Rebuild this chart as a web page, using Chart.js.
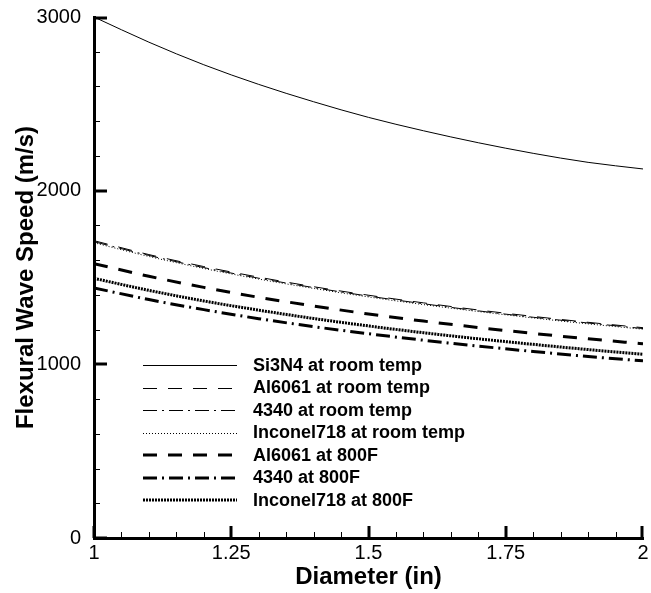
<!DOCTYPE html>
<html>
<head>
<meta charset="utf-8">
<script src="https://cdn.jsdelivr.net/npm/chart.js@4.4.0/dist/chart.umd.min.js"></script>
<style>
  body { margin: 0; background: #fff; }
  canvas { display: block; }
</style>
</head>
<body>
<canvas id="myChart" width="651" height="593"></canvas>
<script>
// diameter values (in) the curves were read at
var diameters = [1, 1.1, 1.2, 1.3, 1.4, 1.5, 1.6, 1.7, 1.8, 1.9, 2];

// flexural wave speed (m/s)
var si3n4Room    = [3000, 2855, 2725, 2612, 2512, 2422, 2345, 2276, 2215, 2163, 2125];
var al6061Room   = [1712, 1632, 1563, 1502, 1447, 1398, 1354, 1313, 1276, 1242, 1211];
var c4340Room    = [1706, 1627, 1557, 1496, 1442, 1393, 1349, 1308, 1271, 1238, 1206];
var inconelRoom  = [1700, 1621, 1552, 1491, 1437, 1388, 1344, 1304, 1267, 1233, 1202];
var al6061Hot    = [1580, 1507, 1443, 1386, 1336, 1290, 1249, 1212, 1178, 1147, 1118];
var c4340Hot     = [1440, 1373, 1315, 1263, 1217, 1176, 1139, 1105, 1074, 1045, 1020];
var inconelHot   = [1495, 1426, 1365, 1312, 1264, 1221, 1182, 1147, 1115, 1085, 1058];

var seriesLabels = [
    'Si3N4 at room temp',
    'Al6061 at room temp',
    '4340 at room temp',
    'Inconel718 at room temp',
    'Al6061 at 800F',
    '4340 at 800F',
    'Inconel718 at 800F'
];

var xMajorTicks = [1, 1.25, 1.5, 1.75, 2];
var yMajorTicks = [0, 1000, 2000, 3000];

function pairs(values) {
    return values.map(function (v, i) {
        return { x: diameters[i], y: v };
    });
}

function line(label, values, width, dash) {
    return {
        label: label,
        data: pairs(values),
        borderColor: '#000',
        backgroundColor: '#000',
        borderWidth: width,
        borderDash: dash,
        pointRadius: 0,
        cubicInterpolationMode: 'monotone',
        fill: false
    };
}

// inward ticks, major and minor, like the original plot
var tickPlugin = {
    id: 'inwardTicks',
    afterDraw: function (chart) {
        var ctx = chart.ctx;
        var xs = chart.scales.x, ys = chart.scales.y;
        var area = chart.chartArea;
        ctx.save();
        ctx.strokeStyle = '#000';
        for (var i = 0; i <= 20; i++) {
            var v = 1 + i * 0.05;
            var major = i % 5 === 0;
            var px = Math.round(xs.getPixelForValue(v)) + (i === 20 ? -1 : 0);
            ctx.lineWidth = major ? 3 : 1;
            ctx.beginPath();
            ctx.moveTo(px + (major ? 0 : 0.5), area.bottom);
            ctx.lineTo(px + (major ? 0 : 0.5), area.bottom - (major ? 12 : 6));
            ctx.stroke();
        }
        for (var j = 0; j <= 15; j++) {
            var w = j * 200;
            var maj = j % 5 === 0;
            var py = Math.round(ys.getPixelForValue(w)) + (j === 15 ? 1 : 0);
            ctx.lineWidth = maj ? 3 : 1;
            ctx.beginPath();
            ctx.moveTo(area.left, py + (maj ? 0 : 0.5));
            ctx.lineTo(area.left + (maj ? 13 : 6), py + (maj ? 0 : 0.5));
            ctx.stroke();
        }
        ctx.restore();
    }
};

// legend sitting inside the plot, lower left
var legendPlugin = {
    id: 'innerLegend',
    afterDatasetsDraw: function (chart) {
        var ctx = chart.ctx;
        ctx.save();
        ctx.font = 'bold 18px "Liberation Sans", Arial, sans-serif';
        ctx.textBaseline = 'middle';
        ctx.fillStyle = '#000';
        chart.data.datasets.forEach(function (ds, i) {
            var y = 365 + i * 22.5;
            ctx.strokeStyle = '#000';
            ctx.lineWidth = ds.borderWidth;
            ctx.setLineDash(ds.borderDash || []);
            ctx.beginPath();
            ctx.moveTo(143, Math.round(y) + (ds.borderWidth === 1 ? 0.5 : 0));
            ctx.lineTo(237, Math.round(y) + (ds.borderWidth === 1 ? 0.5 : 0));
            ctx.stroke();
            ctx.setLineDash([]);
            ctx.fillText(ds.label, 253, y + 1);
        });
        ctx.restore();
    }
};

var ctx = document.getElementById('myChart').getContext('2d');
var tickFont = { family: '"Liberation Sans", Arial, sans-serif', size: 20 };
var titleFont = { family: '"Liberation Sans", Arial, sans-serif', size: 24, weight: 'bold' };

var myChart = new Chart(ctx, {
    type: 'line',
    data: {
        datasets: [
            line(seriesLabels[0], si3n4Room, 1, []),
            line(seriesLabels[1], al6061Room, 1, [14, 11]),
            line(seriesLabels[2], c4340Room, 1, [14, 5, 2, 5]),
            line(seriesLabels[3], inconelRoom, 1, [1, 2]),
            line(seriesLabels[4], al6061Hot, 3, [14, 11]),
            line(seriesLabels[5], c4340Hot, 3, [14, 5, 2, 5]),
            line(seriesLabels[6], inconelHot, 3, [2, 1])
        ]
    },
    options: {
        responsive: false,
        animation: false,
        layout: { padding: { left: 0, top: 17, right: 8, bottom: 0 } },
        plugins: {
            legend: { display: false },
            tooltip: { enabled: false }
        },
        scales: {
            x: {
                type: 'linear',
                min: 1,
                max: 2,
                afterFit: function (scale) { scale.height = 55; },
                afterBuildTicks: function (scale) {
                    scale.ticks = xMajorTicks.map(function (v) { return { value: v }; });
                },
                grid: { display: false },
                border: { display: true, color: '#000', width: 3 },
                ticks: {
                    color: '#000',
                    font: tickFont,
                    padding: -5,
                    maxRotation: 0,
                    callback: function (v) { return String(v); }
                },
                title: {
                    display: true,
                    text: 'Diameter (in)',
                    color: '#000',
                    font: titleFont,
                    padding: { top: 0, bottom: 1 }
                }
            },
            y: {
                type: 'linear',
                min: 0,
                max: 3000,
                afterFit: function (scale) { scale.width = 94; },
                afterBuildTicks: function (scale) {
                    scale.ticks = yMajorTicks.map(function (v) { return { value: v }; });
                },
                grid: { display: false },
                border: { display: true, color: '#000', width: 3 },
                ticks: {
                    color: '#000',
                    font: tickFont,
                    padding: 5,
                    callback: function (v) { return String(v); }
                },
                title: {
                    display: true,
                    text: 'Flexural Wave Speed (m/s)',
                    color: '#000',
                    font: titleFont,
                    padding: { top: 12, bottom: 0 }
                }
            }
        }
    },
    plugins: [tickPlugin, legendPlugin]
});
</script>
</body>
</html>
